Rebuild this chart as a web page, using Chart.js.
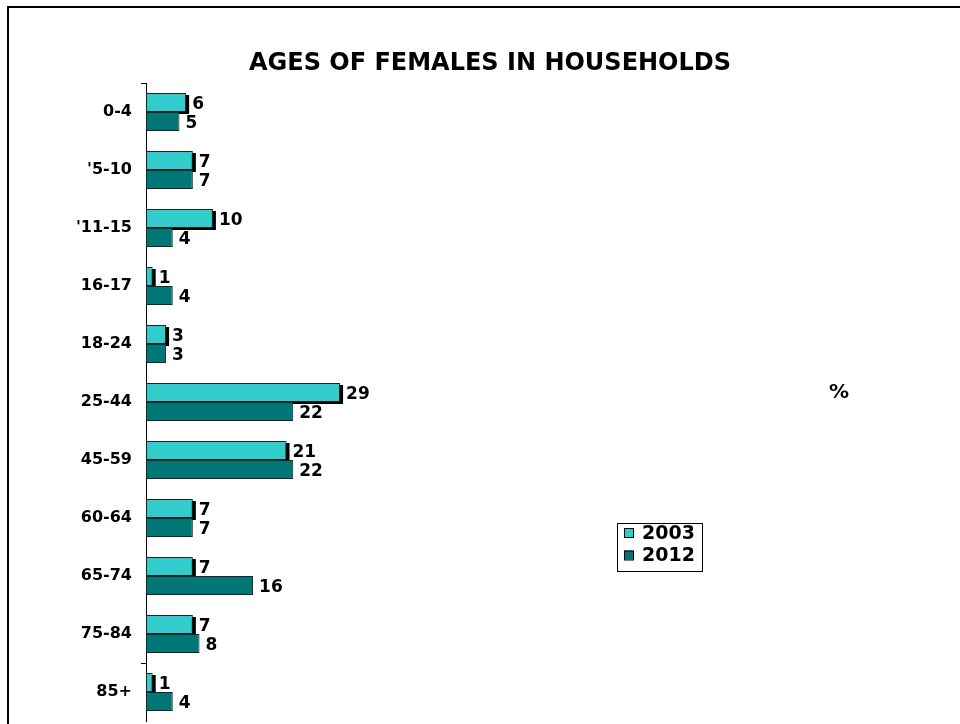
<!DOCTYPE html>
<html><head><meta charset="utf-8">
<script src="https://cdn.jsdelivr.net/npm/chart.js@4"></script>
<style>html,body{margin:0;padding:0;background:#fff;} canvas{display:block;}</style>
</head><body>
<canvas id="c" width="960" height="724"></canvas>
<script>
const categories = ['0-4', "'5-10", "'11-15", '16-17', '18-24', '25-44', '45-59', '60-64', '65-74', '75-84', '85+'];
const values2003 = [6, 7, 10, 1, 3, 29, 21, 7, 7, 7, 1];
const values2012 = [5, 7, 4, 4, 3, 22, 22, 7, 16, 8, 4];
const seriesLabels = ['2003', '2012'];
const seriesColors = ['#33CCCC', '#007777'];
const chartTitle = 'AGES OF FEMALES IN HOUSEHOLDS';
const unitLabel = '%';

const FONT = "'DejaVu Sans', Verdana, sans-serif";

const decor = {
  id: 'decor',
  beforeDatasetsDraw(chart) {
    // drop shadow behind the 2003 bars
    const ctx = chart.ctx;
    ctx.save();
    ctx.fillStyle = '#000';
    chart.getDatasetMeta(0).data.forEach(bar => {
      const p = bar.getProps(['x', 'y', 'base', 'height'], true);
      const left = Math.min(p.x, p.base), w = Math.abs(p.x - p.base);
      ctx.fillRect(left + 3, p.y - p.height / 2 + 2, w, p.height);
    });
    ctx.restore();
  },
  afterDatasetsDraw(chart) {
    const ctx = chart.ctx;
    ctx.save();
    ctx.font = 'bold 17px ' + FONT;
    ctx.fillStyle = '#000';
    ctx.textAlign = 'left';
    ctx.textBaseline = 'middle';
    chart.data.datasets.forEach((ds, di) => {
      const meta = chart.getDatasetMeta(di);
      meta.data.forEach((bar, i) => {
        const p = bar.getProps(['x', 'y'], true);
        ctx.fillText(String(ds.data[i]), p.x + 6, p.y + 2);
      });
    });
    ctx.restore();
  },
  afterDraw(chart) {
    const ctx = chart.ctx;
    ctx.save();
    // outer frame (left and top visible)
    ctx.fillStyle = '#000';
    ctx.fillRect(7, 6, 2, 724);
    ctx.fillRect(7, 6, 953, 2);
    // unit label
    ctx.font = 'bold 20px ' + FONT;
    ctx.textAlign = 'center';
    ctx.textBaseline = 'middle';
    ctx.fillText(unitLabel, 839, 393);
    // legend
    const lx = 617, ly = 523, lw = 85, lh = 48;
    ctx.fillStyle = '#fff';
    ctx.fillRect(lx, ly, lw, lh);
    ctx.strokeStyle = '#000';
    ctx.lineWidth = 1;
    ctx.strokeRect(lx + 0.5, ly + 0.5, lw, lh);
    ctx.font = 'bold 19px ' + FONT;
    ctx.textAlign = 'left';
    chart.data.datasets.forEach((ds, i) => {
      const cy = ly + 10 + i * 22.5;
      ctx.fillStyle = ds.backgroundColor;
      ctx.fillRect(lx + 7, cy - 5, 9, 9);
      ctx.strokeStyle = '#000';
      ctx.strokeRect(lx + 7.5, cy - 4.5, 9, 9);
      ctx.fillStyle = '#000';
      ctx.fillText(ds.label, lx + 25, cy + 1);
    });
    ctx.restore();
  }
};

new Chart(document.getElementById('c'), {
  type: 'bar',
  data: {
    labels: categories,
    datasets: [
      { label: seriesLabels[0], data: values2003, backgroundColor: seriesColors[0] },
      { label: seriesLabels[1], data: values2012, backgroundColor: seriesColors[1] }
    ]
  },
  options: {
    indexAxis: 'y',
    responsive: false,
    animation: false,
    devicePixelRatio: 1,
    datasets: {
      bar: {
        barPercentage: 1,
        categoryPercentage: 0.655,
        borderWidth: 1,
        borderColor: '#222',
        borderSkipped: false
      }
    },
    layout: { padding: { left: 31, right: 11, top: 0, bottom: 3 } },
    scales: {
      x: { display: false, min: 0, max: 120 },
      y: {
        afterFit(s) { s.width = 115; s.paddingTop = 0; s.paddingBottom = 0; },
        grid: {
          offset: true,
          drawOnChartArea: false,
          drawTicks: true,
          tickLength: 5,
          lineWidth: 1,
          color: c => (c.index !== undefined && c.index % 10 === 0 ? '#000' : 'rgba(0,0,0,0)')
        },
        border: { display: true, color: '#000', width: 1 },
        ticks: { color: '#000', padding: 9, font: { family: FONT, size: 16, weight: 'bold' } }
      }
    },
    plugins: {
      legend: { display: false },
      tooltip: { enabled: false },
      title: {
        display: true,
        text: chartTitle,
        color: '#000',
        font: { family: FONT, size: 24, weight: 'bold', lineHeight: 1.2 },
        padding: { top: 49.6, bottom: 4.6 }
      }
    }
  },
  plugins: [decor]
});
</script>
</body></html>
